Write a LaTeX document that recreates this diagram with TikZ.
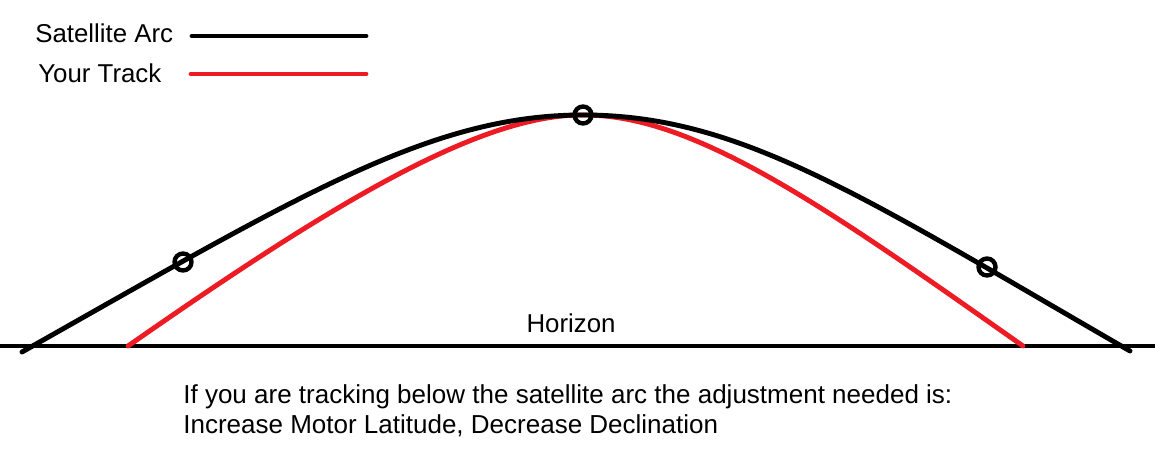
\documentclass[tikz,border=0pt]{standalone}
\usepackage{fontspec}
\setmainfont{Liberation Sans}
\usetikzlibrary{positioning, calc}
\definecolor{trackred}{RGB}{237,28,36}

\begin{document}
\begin{tikzpicture}[
        x=0.02cm, y=-0.02cm,
        % Estilos de las curvas y marcas
        arc/.style={line width=2.8pt, black, line cap=round},
        track/.style={line width=2.8pt, trackred, line cap=round},
        horizon/.style={line width=2.3pt, black},
        marker/.style={draw, circle, line width=2.5pt, minimum size=0.34cm, inner sep=0pt},
        label/.style={font=\fontsize{14.7}{17}\selectfont, inner sep=0pt}
    ]
        \useasboundingbox (0,0) rectangle (1155,460);

        % Leyenda
        \node[label, anchor=base west] (arcname) at (35,42) {Satellite Arc};
        \node[label, anchor=base west] (trackname) at (38,82) {Your Track};
        \coordinate (arckeyA) at (192,36);
        \coordinate (arckeyB) at (366,36);
        \coordinate (trackkeyA) at (191,74);
        \coordinate (trackkeyB) at (366,74);
        \draw[arc] (arckeyA) -- (arckeyB);
        \draw[track] (trackkeyA) -- (trackkeyB);

        % Horizonte
        \coordinate (horizonL) at (0,346);
        \coordinate (horizonR) at (1155,346);
        \draw[horizon] (horizonL) -- (horizonR);
        \node[label, anchor=base] (horizonname) at (571,332) {Horizon};

        % Puntos de las curvas
        \coordinate (arcL) at (22,352);
        \coordinate (arcR) at (1130,351);
        \coordinate (peak) at (583,115);
        \coordinate (trackL) at (128,346);
        \coordinate (trackR) at (1023,346);

        % Trayectoria propia (roja) y arco del satelite (negro)
        \draw[track] (trackL) .. controls (330,205) and (480,114) .. (peak)
            .. controls (695,114) and (830,210) .. (trackR);
        \draw[arc] (arcL) .. controls (300,195) and (430,115) .. (peak)
            .. controls (740,115) and (860,195) .. (arcR);

        % Marcas sobre el arco
        \node[marker] (markL) at (183,262) {};
        \node[marker] (markT) at (peak) {};
        \node[marker] (markR) at (987,267) {};

        % Nota inferior
        \node[label, font=\fontsize{14.8}{17}\selectfont, anchor=base west, align=left] (note) at (183,433)
            {If you are tracking below the satellite arc the adjustment needed is:\\
             Increase Motor Latitude, Decrease Declination};
    \end{tikzpicture}
\end{document}
